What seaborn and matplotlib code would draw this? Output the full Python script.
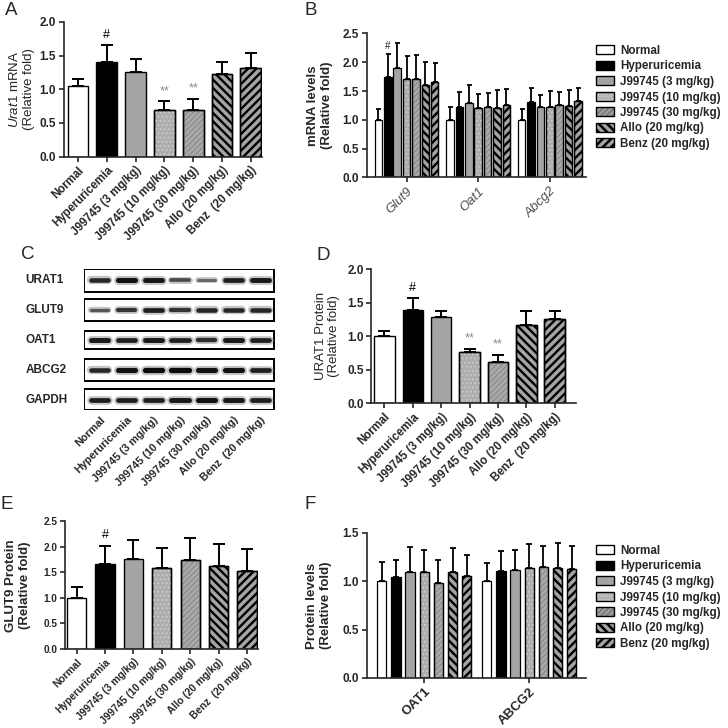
import numpy as np
import pandas as pd
import matplotlib
matplotlib.use('Agg')
import matplotlib.pyplot as plt
import seaborn as sns
from matplotlib.patches import Patch, Rectangle
from matplotlib.transforms import blended_transform_factory

# ---- data ----
groups = ['Normal', 'Hyperuricemia', 'J99745 (3 mg/kg)', 'J99745 (10 mg/kg)',
          'J99745 (30 mg/kg)', 'Allo (20 mg/kg)', 'Benz (20 mg/kg)']
tick_groups = ['Normal', 'Hyperuricemia', 'J99745 (3 mg/kg)', 'J99745 (10 mg/kg)',
               'J99745 (30 mg/kg)', 'Allo (20 mg/kg)', 'Benz  (20 mg/kg)']

# A: Urat1 mRNA
urat1_mrna = [1.05, 1.41, 1.25, 0.69, 0.69, 1.23, 1.31]
urat1_mrna_err = [0.10, 0.24, 0.20, 0.13, 0.17, 0.17, 0.23]
sig_a = ['', '#', '', '**', '**', '', '']

# B: mRNA levels
mrna_genes = ['Glut9', 'Oat1', 'Abcg2']
glut9_mrna = [1.00, 1.75, 1.90, 1.70, 1.71, 1.60, 1.65]
glut9_mrna_err = [0.19, 0.40, 0.43, 0.40, 0.41, 0.40, 0.34]
oat1_mrna = [1.00, 1.22, 1.30, 1.20, 1.22, 1.20, 1.25]
oat1_mrna_err = [0.23, 0.27, 0.30, 0.24, 0.25, 0.31, 0.28]
abcg2_mrna = [1.00, 1.31, 1.22, 1.23, 1.26, 1.24, 1.33]
abcg2_mrna_err = [0.19, 0.25, 0.21, 0.27, 0.22, 0.27, 0.23]

# C: western blot, relative band darkness per lane
blot_rows = ['URAT1', 'GLUT9', 'OAT1', 'ABCG2', 'GAPDH']
urat1_band = [0.80, 0.95, 0.90, 0.55, 0.35, 0.85, 0.90]
glut9_band = [0.45, 0.70, 0.85, 0.70, 0.80, 0.80, 0.80]
oat1_band = [0.90, 0.85, 0.90, 0.85, 0.75, 0.90, 0.85]
abcg2_band = [0.80, 0.95, 1.00, 1.00, 0.95, 0.95, 0.85]
gapdh_band = [0.85, 0.85, 0.85, 0.90, 0.95, 0.90, 0.85]

# D: URAT1 protein
urat1_prot = [1.00, 1.39, 1.29, 0.76, 0.62, 1.17, 1.25]
urat1_prot_err = [0.07, 0.18, 0.09, 0.05, 0.10, 0.20, 0.12]
sig_d = ['', '#', '', '**', '**', '', '']

# E: GLUT9 protein
glut9_prot = [1.00, 1.66, 1.77, 1.59, 1.74, 1.63, 1.53]
glut9_prot_err = [0.21, 0.35, 0.36, 0.38, 0.43, 0.42, 0.43]
sig_e = ['', '#', '', '', '', '', '']

# F: protein levels
prot_genes = ['OAT1', 'ABCG2']
oat1_prot = [1.00, 1.04, 1.10, 1.10, 0.98, 1.10, 1.05]
oat1_prot_err = [0.20, 0.18, 0.25, 0.22, 0.24, 0.24, 0.22]
abcg2_prot = [1.00, 1.11, 1.12, 1.14, 1.15, 1.14, 1.13]
abcg2_prot_err = [0.19, 0.20, 0.20, 0.25, 0.22, 0.26, 0.24]

# ---- styling ----
sns.set_style('ticks')
plt.rcParams['font.family'] = ['Liberation Sans', 'DejaVu Sans']
plt.rcParams['mathtext.fontset'] = 'custom'
plt.rcParams['mathtext.rm'] = 'Liberation Sans'
plt.rcParams['mathtext.it'] = 'Liberation Sans:italic'
plt.rcParams['mathtext.bf'] = 'Liberation Sans:bold'
plt.rcParams['hatch.linewidth'] = 1.8

# facecolor, hatch, hatch colour, hatch linewidth
bar_styles = [
    ('white', '', 'black', 0),
    ('black', '', 'black', 0),
    ('#a4a4a4', '', 'black', 0),
    ('#adadad', '....', '#c9c9c9', 0.9),
    ('#a9a9a9', '//////', '#808080', 0.6),
    ('#a4a4a4', '\\\\\\\\', 'black', 1.7),
    ('#a4a4a4', '////', 'black', 1.7),
]
HAS_HLW = hasattr(Patch, 'set_hatch_linewidth')
W = 728.0


def style_bars(ax, means, errs, capsize, elw=1.4, blw=1.0):
    bars = sorted(ax.patches, key=lambda p: p.get_x())
    centers = []
    for i, p in enumerate(bars):
        face, hatch, hcol, hlw = bar_styles[i % 7]
        x, w, h = p.get_x(), p.get_width(), p.get_height()
        p.set_facecolor(face)
        p.set_edgecolor('black')
        p.set_linewidth(blw)
        if hatch:
            hp = Rectangle((x, 0), w, h, facecolor='none', edgecolor=hcol, hatch=hatch,
                           linewidth=0, zorder=p.get_zorder() + 0.05)
            if HAS_HLW:
                hp.set_hatch_linewidth(hlw)
            ax.add_patch(hp)
            ax.add_patch(Rectangle((x, 0), w, h, fill=False, edgecolor='black',
                                   linewidth=blw, zorder=p.get_zorder() + 0.1))
        centers.append(x + w / 2)
    ax.errorbar(centers, means, yerr=[np.zeros(len(means)), errs], fmt='none',
                ecolor='black', elinewidth=elw, capsize=capsize, capthick=elw, zorder=3)
    return centers


def prism_axes(ax, ymax, ystep, fs):
    sns.despine(ax=ax)
    for s in ['left', 'bottom']:
        ax.spines[s].set_linewidth(1.2)
    ax.set_ylim(0, ymax)
    ax.set_yticks(np.arange(0, ymax + 0.01, ystep))
    ax.yaxis.set_major_formatter('{x:.1f}')
    ax.tick_params(direction='out', length=3.5, width=1.2, labelsize=fs, pad=2)
    for t in ax.get_yticklabels():
        t.set_fontweight('bold')
    ax.set_xlabel('')


def single_panel(rect, means, errs, marks, ymax, ystep, xlim, width, ylabel, ylab_weight,
                 labelpad, fs_tick, fs_x, mark_off):
    ax = fig.add_axes(rect)
    df = pd.DataFrame({'group': groups, 'value': means})
    sns.barplot(data=df, x='group', y='value', hue='group', order=groups, hue_order=groups,
                palette=[s[0] for s in bar_styles], errorbar=None, legend=False,
                width=width, ax=ax)
    centers = style_bars(ax, means, errs, capsize=4.2)
    prism_axes(ax, ymax, ystep, fs_tick)
    ax.set_xlim(*xlim)
    ax.set_xticks(range(7), tick_groups, rotation=45, ha='right', va='top',
                  rotation_mode='anchor', fontweight='bold', fontsize=fs_x)
    ax.tick_params(axis='x', pad=2)
    ax.set_ylabel(ylabel, fontsize=9.5, fontweight=ylab_weight, labelpad=labelpad)
    for xc, m, e, mk in zip(centers, means, errs, marks):
        if mk:
            ax.text(xc, m + e + mark_off, mk, ha='center', va='bottom', fontsize=9,
                    color='black' if mk == '#' else '#8c8c8c')
    return ax


def grouped_panel(rect, genes, means, errs, ymax, xlim, width, gap, capsize):
    ax = fig.add_axes(rect)
    df = pd.DataFrame({'gene': np.repeat(genes, 7), 'group': groups * len(genes),
                       'value': np.concatenate(means)})
    sns.barplot(data=df, x='gene', y='value', hue='group', order=genes, hue_order=groups,
                palette=[s[0] for s in bar_styles], errorbar=None, legend=False,
                width=width, gap=gap, ax=ax)
    centers = style_bars(ax, np.concatenate(means), np.concatenate(errs), capsize=capsize,
                         elw=1.3, blw=0.9)
    prism_axes(ax, ymax, 0.5, 8.5)
    ax.set_xlim(*xlim)
    return ax, centers


def add_legend(ax, top_px):
    handles = []
    for face, hatch, hcol, hlw in bar_styles:
        hp = Patch(facecolor=face, edgecolor=hcol, hatch=hatch, linewidth=0)
        if HAS_HLW and hatch:
            hp.set_hatch_linewidth(hlw)
        handles.append((hp, Patch(fill=False, edgecolor='black', linewidth=1.0)))
    ax.legend(handles, groups, loc='upper left', bbox_to_anchor=(596 / W, 1 - top_px / W),
              bbox_transform=fig.transFigure, frameon=False, borderpad=0, borderaxespad=0,
              handlelength=1.55, handleheight=0.8, handletextpad=0.5, labelspacing=0.3,
              prop={'weight': 'bold', 'size': 8.4})


fig = plt.figure(figsize=(7.28, 7.28), dpi=100)

# A
single_panel([63.6 / W, 0.785, 198.4 / W, 0.185], urat1_mrna, urat1_mrna_err, sig_a,
             2.0, 0.5, (-0.5, 6.39), 0.72, r'$\it{Urat1}$ mRNA' + '\n(Relative fold)',
             'normal', 3, 8.5, 8.3, 0.06)

# B
ax_b, cb = grouped_panel([366.8 / W, 0.7563, 219.2 / W, 0.1978], mrna_genes,
                         [glut9_mrna, oat1_mrna, abcg2_mrna],
                         [glut9_mrna_err, oat1_mrna_err, abcg2_mrna_err],
                         2.5, (-0.556, 2.506), 0.917, 0.2, 1.8)
ax_b.set_xticks(range(3), mrna_genes, rotation=45, ha='right', va='top',
                rotation_mode='anchor', fontstyle='italic', color='#4d4d4d', fontsize=9.5)
ax_b.tick_params(axis='x', pad=2)
ax_b.set_ylabel('mRNA levels\n(Relative fold)', fontsize=9.5, fontweight='bold', labelpad=7)
ax_b.text(cb[1], glut9_mrna[1] + glut9_mrna_err[1] + 0.05, '#', ha='center', va='bottom',
          fontsize=7)
add_legend(ax_b, 45)

# C: western blot
ax_c = fig.add_axes([83.6 / W, 1 - 410.4 / W, 191.4 / W, 141.4 / W])
box_heights = [0.76, 0.72, 0.62, 0.75, 0.72]
bands = [urat1_band, glut9_band, oat1_band, abcg2_band, gapdh_band]
for r, (name, row, bh) in enumerate(zip(blot_rows, bands, box_heights)):
    ax_c.add_patch(Rectangle((-0.59, r - bh / 2), 7.13, bh, fill=False, edgecolor='black',
                             linewidth=1.4))
    for lane, s in enumerate(row):
        ax_c.plot([lane - 0.32, lane + 0.32], [r, r], color='0.5', alpha=0.45,
                  linewidth=2.8 + 4 * s, solid_capstyle='round')
        ax_c.plot([lane - 0.32, lane + 0.32], [r, r], color=str(0.04 + (1 - s) * 0.55),
                  linewidth=1.2 + 2.6 * s, solid_capstyle='round')
    ax_c.text(25.5 / W, r, name, transform=blended_transform_factory(fig.transFigure, ax_c.transData),
              ha='left', va='center', fontweight='bold', fontsize=8.5)
ax_c.set_xlim(-0.61, 6.56)
ax_c.set_ylim(4.36, -0.38)
for s in ax_c.spines.values():
    s.set_visible(False)
ax_c.set_yticks([])
ax_c.set_xticks(range(7), tick_groups, rotation=45, ha='right', va='top',
                rotation_mode='anchor', fontweight='bold', fontsize=7.8)
ax_c.tick_params(axis='x', length=0, pad=3)

# D
single_panel([371.4 / W, 0.4464, 204.3 / W, 0.1837], urat1_prot, urat1_prot_err, sig_d,
             2.0, 0.5, (-0.458, 6.74), 0.72, 'URAT1 Protein\n(Relative fold)',
             'normal', 5, 8.5, 8.3, 0.06)

# E
single_panel([65 / W, 0.1085, 192.7 / W, 0.1753], glut9_prot, glut9_prot_err, sig_e,
             2.5, 0.5, (-0.41, 6.38), 0.68, 'GLUT9 Protein\n(Relative fold)',
             'bold', 9, 7.2, 7.4, 0.1)

# F
ax_f, cf = grouped_panel([366.8 / W, 0.0687, 219.2 / W, 0.1992], prot_genes,
                         [oat1_prot, abcg2_prot], [oat1_prot_err, abcg2_prot_err],
                         1.5, (-0.547, 1.541), 0.946, 0.34, 2.2)
ax_f.set_xticks(range(2), prot_genes, rotation=45, ha='right', va='top',
                rotation_mode='anchor', fontweight='bold', fontsize=9.5)
ax_f.tick_params(axis='x', pad=2)
ax_f.set_ylabel('Protein levels\n(Relative fold)', fontsize=9.5, fontweight='bold', labelpad=8)
add_legend(ax_f, 545)

# panel letters
for letter, x, y in [('A', 5, 2), ('B', 305, 2), ('C', 21, 246), ('D', 316, 247),
                     ('E', 0, 496), ('F', 304, 496)]:
    fig.text(x / W, 1 - y / W, letter, fontsize=13.5, ha='left', va='top')

fig.savefig('out.png', dpi=100)
